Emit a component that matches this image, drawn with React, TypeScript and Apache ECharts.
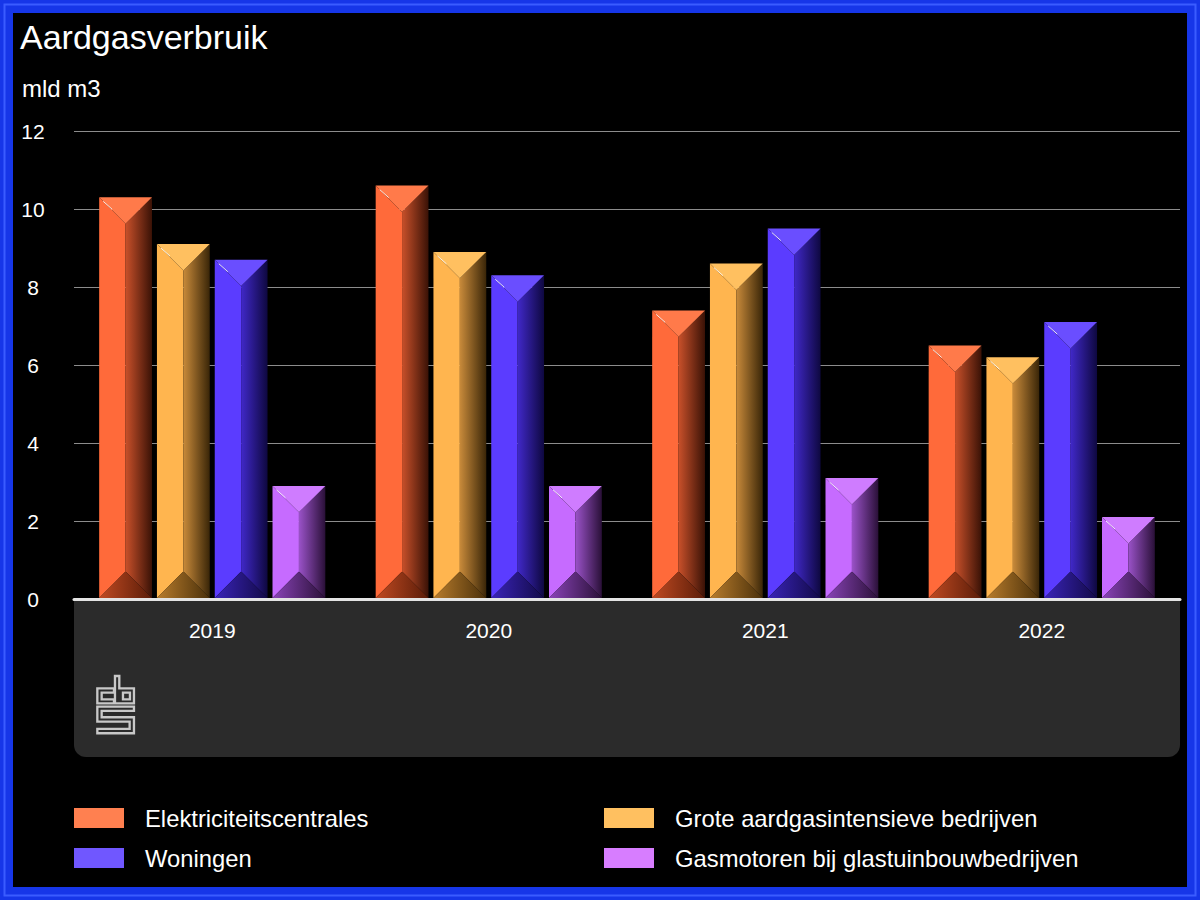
import React, { useEffect, useRef } from "react";
import * as echarts from "echarts";

const years = ["2019", "2020", "2021", "2022"];
const seriesNames = [
  "Elektriciteitscentrales",
  "Grote aardgasintensieve bedrijven",
  "Woningen",
  "Gasmotoren bij glastuinbouwbedrijven",
];
const elektriciteitscentrales = [10.3, 10.6, 7.4, 6.5];
const groteBedrijven = [9.1, 8.9, 8.6, 6.2];
const woningen = [8.7, 8.3, 9.5, 7.1];
const gasmotoren = [2.9, 2.9, 3.1, 2.1];
const yTicks = { min: 0, max: 12, interval: 2 };

const FONT = "'Liberation Sans', Arial, Helvetica, sans-serif";

const palettes = [
  { legend: "#ff8050", base: "#ff6a3a", top: "#ff7a4a", bottom: ["#c04a22", "#5a1c08"], side: ["#c8502a", "#3a1206"] },
  { legend: "#ffc060", base: "#ffb54f", top: "#ffc060", bottom: ["#b87c2c", "#4a300a"], side: ["#c88a3a", "#3a2608"] },
  { legend: "#7057ff", base: "#5b3cff", top: "#6a4eff", bottom: ["#3a24b8", "#120a48"], side: ["#4028c8", "#0e0840"] },
  { legend: "#d77dff", base: "#c66bff", top: "#cf7cff", bottom: ["#8a44b8", "#2a1038"], side: ["#9a52c8", "#2a1038"] },
];

const logoPath =
  "M72 55 L22 55 L22 100 L72 100 L72 88 L35 88 L35 68 L72 68 Z " +
  "M75 18 L88 18 L88 55 L132 55 L132 100 L75 100 Z M99 68 L120 68 L120 88 L99 88 Z " +
  "M22 110 L132 110 L132 123 L35 123 L35 142 L132 142 L132 190 L22 190 L22 177 L119 177 L119 155 L22 155 Z";

let registered = false;
function registerLogo() {
  if (registered) return;
  echarts.graphic.registerShape("cbslogo", echarts.graphic.extendPath(logoPath, {}));
  registered = true;
}

function makeRenderItem(si: number) {
  return (params: any, api: any) => {
    const ci = api.value(0);
    const v = api.value(1);
    const base = api.coord([ci, 0]);
    const top = api.coord([ci, v]);
    const band = api.size([1, 0])[0];
    const w = band * 0.191;
    const gap = band * 0.018;
    const groupW = 4 * w + 3 * gap;
    const x0 = base[0] - groupW / 2 + si * (w + gap);
    const x1 = x0 + w;
    const xc = (x0 + x1) / 2;
    const yt = top[1];
    const yb = base[1] - 1;
    const h = Math.min(w / 2, (yb - yt) / 2);
    const p = palettes[si];
    return {
      type: "group",
      children: [
        {
          type: "polygon",
          shape: { points: [[x0, yt], [xc, yt + h], [xc, yb - h], [x0, yb]] },
          style: { fill: p.base },
        },
        {
          type: "polygon",
          shape: { points: [[x1, yt], [xc, yt + h], [xc, yb - h], [x1, yb]] },
          style: {
            fill: new echarts.graphic.LinearGradient(0, 0, 1, 0, [
              { offset: 0, color: p.side[0] },
              { offset: 1, color: p.side[1] },
            ]),
          },
        },
        {
          type: "polygon",
          shape: { points: [[x0, yt], [x1, yt], [xc, yt + h]] },
          style: { fill: p.top },
        },
        {
          type: "polygon",
          shape: { points: [[x0, yb], [x1, yb], [xc, yb - h]] },
          style: {
            fill: new echarts.graphic.LinearGradient(0, 0, 1, 0, [
              { offset: 0, color: p.bottom[0] },
              { offset: 1, color: p.bottom[1] },
            ]),
          },
        },
        {
          type: "line",
          shape: { x1: x0 + 4, y1: yt + 4, x2: x0 + 13, y2: yt + 12 },
          style: { stroke: "rgba(255,255,255,0.85)", lineWidth: 1 },
        },
      ],
    };
  };
}

export default function App() {
  const ref = useRef<HTMLDivElement>(null);
  useEffect(() => {
    if (!ref.current) return;
    registerLogo();
    const chart = echarts.init(ref.current, undefined, { renderer: "svg" });
    const allData = [elektriciteitscentrales, groteBedrijven, woningen, gasmotoren];
    const option: any = {
      animation: false,
      backgroundColor: "#000000",
      textStyle: { fontFamily: FONT },
      title: {
        text: "Aardgasverbruik",
        left: 15,
        top: 15,
        textStyle: { color: "#ffffff", fontSize: 34, fontWeight: "normal", fontFamily: FONT },
      },
      grid: { left: 74, right: 20, top: 131, bottom: 301, containLabel: false },
      xAxis: {
        type: "category",
        data: years,
        axisLine: { show: true, lineStyle: { color: "#e4e4e4", width: 3 } },
        axisTick: { show: false },
        axisLabel: { color: "#ffffff", fontSize: 21, margin: 21, fontFamily: FONT },
        z: 5,
      },
      yAxis: {
        type: "value",
        min: yTicks.min,
        max: yTicks.max,
        interval: yTicks.interval,
        axisLine: { show: false },
        axisTick: { show: false },
        axisLabel: { color: "#ffffff", fontSize: 21, align: "center", margin: 41, fontFamily: FONT },
        splitLine: { lineStyle: { color: "#8c8c8c", width: 1 } },
      },
      legend: [
        {
          data: [seriesNames[0], seriesNames[2]],
          orient: "vertical",
          left: 74,
          top: 806,
          padding: 0,
          itemWidth: 50,
          itemHeight: 20,
          itemGap: 16,
          icon: "rect",
          selectedMode: false,
          textStyle: { color: "#ffffff", fontSize: 23.8, padding: [0, 0, 0, 16], fontFamily: FONT },
        },
        {
          data: [seriesNames[1], seriesNames[3]],
          orient: "vertical",
          left: 604,
          top: 806,
          padding: 0,
          itemWidth: 50,
          itemHeight: 20,
          itemGap: 16,
          icon: "rect",
          selectedMode: false,
          textStyle: { color: "#ffffff", fontSize: 23.8, padding: [0, 0, 0, 16], fontFamily: FONT },
        },
      ],
      graphic: [
        {
          type: "rect",
          z: -1,
          shape: { x: 74, y: 601, width: 1106, height: 156, r: [0, 0, 12, 12] },
          style: { fill: "#2b2b2b" },
        },
        {
          type: "cbslogo",
          x: 90,
          y: 670,
          scaleX: 1 / 3,
          scaleY: 1 / 3,
          style: { fill: "none", stroke: "#c8c8c8", lineWidth: 7 },
        },
        {
          type: "text",
          left: 22,
          top: 76,
          style: { text: "mld m3", fill: "#ffffff", fontSize: 24, fontFamily: FONT },
        },
        {
          type: "rect",
          shape: { x: 6.5, y: 6.5, width: 1187, height: 887 },
          style: { fill: "none", stroke: "#1636e8", lineWidth: 13 },
        },
        {
          type: "rect",
          shape: { x: 4.5, y: 4.5, width: 1191, height: 891 },
          style: { fill: "none", stroke: "#3a5cff", lineWidth: 2 },
        },
      ],
      series: allData.map((vals, si) => ({
        type: "custom",
        name: seriesNames[si],
        itemStyle: { color: palettes[si].legend },
        renderItem: makeRenderItem(si),
        encode: { x: 0, y: 1 },
        data: vals.map((v, i) => [i, v]),
        z: 3,
      })),
    };
    chart.setOption(option);
    return () => chart.dispose();
  }, []);
  return (
    <div style={{ position: "fixed", left: 0, top: 0, width: 1200, height: 900 }}>
      <div ref={ref} style={{ width: 1200, height: 900 }} />
    </div>
  );
}
